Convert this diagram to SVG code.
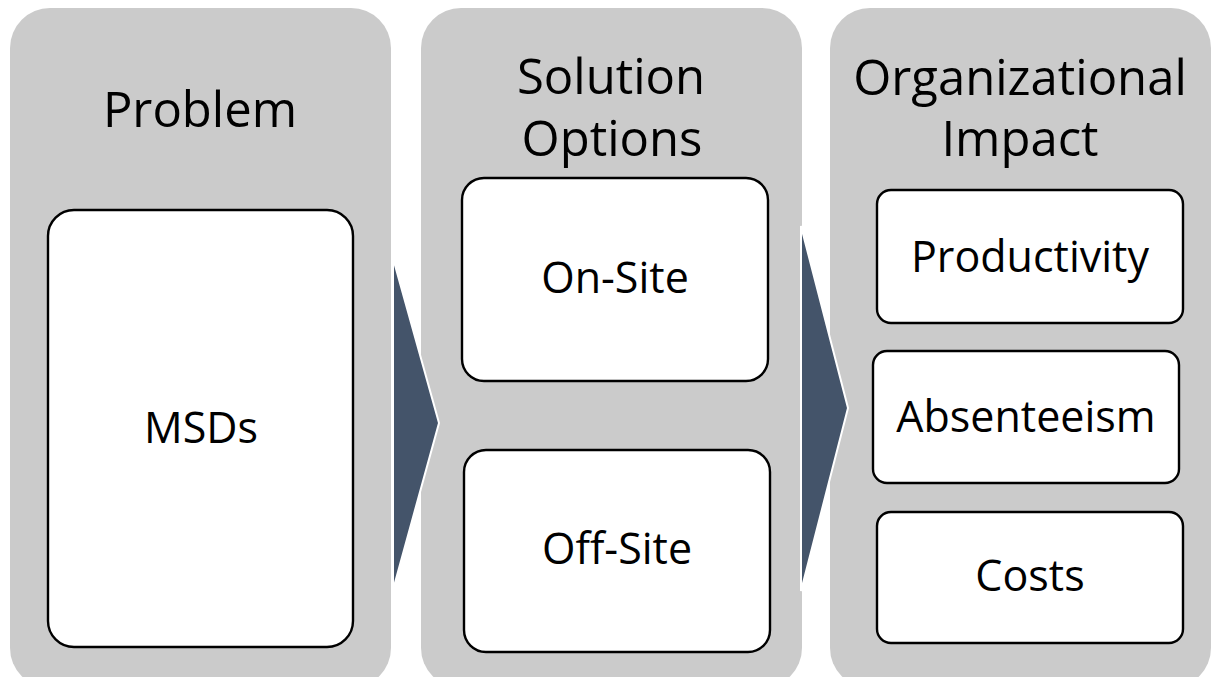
<svg xmlns="http://www.w3.org/2000/svg" width="1211" height="677" viewBox="0 0 1211 677">
<style>
.panel{fill:#cbcbcb;}
.box{fill:#ffffff;stroke:#000000;stroke-width:2.4;}
.arrow{fill:#44546a;stroke:#ffffff;stroke-width:2;stroke-linejoin:miter;}
text{font-family:"Open Sans","Liberation Sans",sans-serif;fill:#000000;text-anchor:middle;}
.h{font-size:49px;}
.t{font-size:43px;}
</style>
<rect width="1211" height="677" fill="#ffffff"/>
<g id="panel-problem">
<rect class="panel" x="10" y="8" width="381" height="680" rx="40"/>
<text class="h" x="200" y="127">Problem</text>
</g>
<g id="panel-solution">
<rect class="panel" x="421" y="8" width="381" height="680" rx="40"/>
<text class="h" x="611" y="94">Solution</text>
<text class="h" x="612" y="156">Options</text>
</g>
<g id="panel-impact">
<rect class="panel" x="830" y="8" width="381" height="680" rx="40"/>
<text class="h" x="1020" y="95">Organizational</text>
<text class="h" x="1020" y="156">Impact</text>
</g>
<g id="connectors">
<polygon class="arrow" points="393,258 439,423 393,590"/>
<polygon class="arrow" points="801,226 848,408 801,591"/>
</g>
<g id="node-msds">
<rect class="box" x="48" y="210" width="305" height="437" rx="26"/>
<text class="t" x="201" y="443">MSDs</text>
</g>
<g id="node-onsite">
<rect class="box" x="462" y="178" width="306" height="203" rx="22"/>
<text class="t" x="615" y="293">On-Site</text>
</g>
<g id="node-offsite">
<rect class="box" x="464" y="450" width="306" height="202" rx="22"/>
<text class="t" x="617" y="564">Off-Site</text>
</g>
<g id="node-productivity">
<rect class="box" x="877" y="190" width="306" height="133" rx="14"/>
<text class="t" x="1030" y="272">Productivity</text>
</g>
<g id="node-absenteeism">
<rect class="box" x="873" y="351" width="306" height="132" rx="14"/>
<text class="t" x="1026" y="432">Absenteeism</text>
</g>
<g id="node-costs">
<rect class="box" x="877" y="512" width="306" height="131" rx="14"/>
<text class="t" x="1030" y="591">Costs</text>
</g>
</svg>
